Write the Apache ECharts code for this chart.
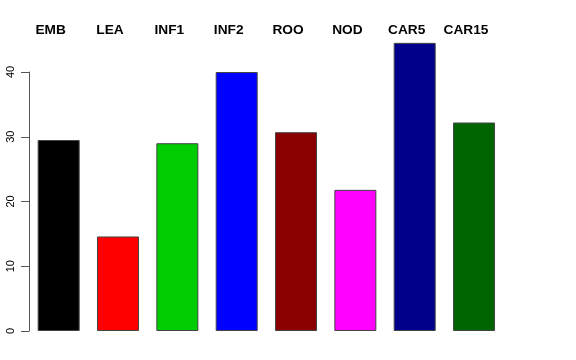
<!DOCTYPE html>
<html>
<head>
<meta charset="utf-8">
<script src="https://cdn.jsdelivr.net/npm/echarts@6/dist/echarts.min.js"></script>
<style>html,body{margin:0;padding:0;background:#fff}#c{width:576px;height:360px}</style>
</head>
<body>
<div id="c"></div>
<script>
const categories = ['EMB', 'LEA', 'INF1', 'INF2', 'ROO', 'NOD', 'CAR5', 'CAR15'];
const values = [29.5, 14.6, 29.0, 40.0, 30.7, 21.8, 44.5, 32.2];
const colors = ['#000000', '#FF0000', '#00CD00', '#0000FF', '#8B0000', '#FF00FF', '#00008B', '#006400'];
const yTicks = [0, 10, 20, 30, 40];

const chart = echarts.init(document.getElementById('c'), null, {renderer: 'canvas'});
chart.setOption({
  animation: false,
  backgroundColor: '#ffffff',
  grid: {left: 29, right: 72.3, top: 72, bottom: 29, containLabel: false},
  xAxis: {
    type: 'category',
    data: categories,
    position: 'top',
    axisLine: {show: false},
    axisTick: {show: false},
    splitLine: {show: false},
    axisLabel: {
      interval: 0,
      margin: 41.5,
      verticalAlign: 'middle',
      padding: [0, 16, 0, 0],
      color: '#000',
      fontFamily: 'Liberation Sans, Arial, sans-serif',
      fontWeight: 'bold',
      fontSize: 13.7
    }
  },
  yAxis: {
    type: 'value',
    min: yTicks[0],
    max: yTicks[yTicks.length - 1],
    interval: 10,
    axisLine: {show: true, lineStyle: {color: '#555', width: 1}},
    axisTick: {show: true, length: 8, lineStyle: {color: '#555', width: 1}},
    splitLine: {show: false},
    axisLabel: {
      rotate: 90,
      margin: 12.5,
      color: '#000',
      fontFamily: 'Liberation Sans, Arial, sans-serif',
      fontSize: 11
    }
  },
  series: [{
    type: 'bar',
    clip: false,
    barWidth: 42,
    data: values.map((v, i) => ({value: v, itemStyle: {color: colors[i]}})),
    itemStyle: {borderColor: '#444', borderWidth: 1}
  }]
});
</script>
</body>
</html>
